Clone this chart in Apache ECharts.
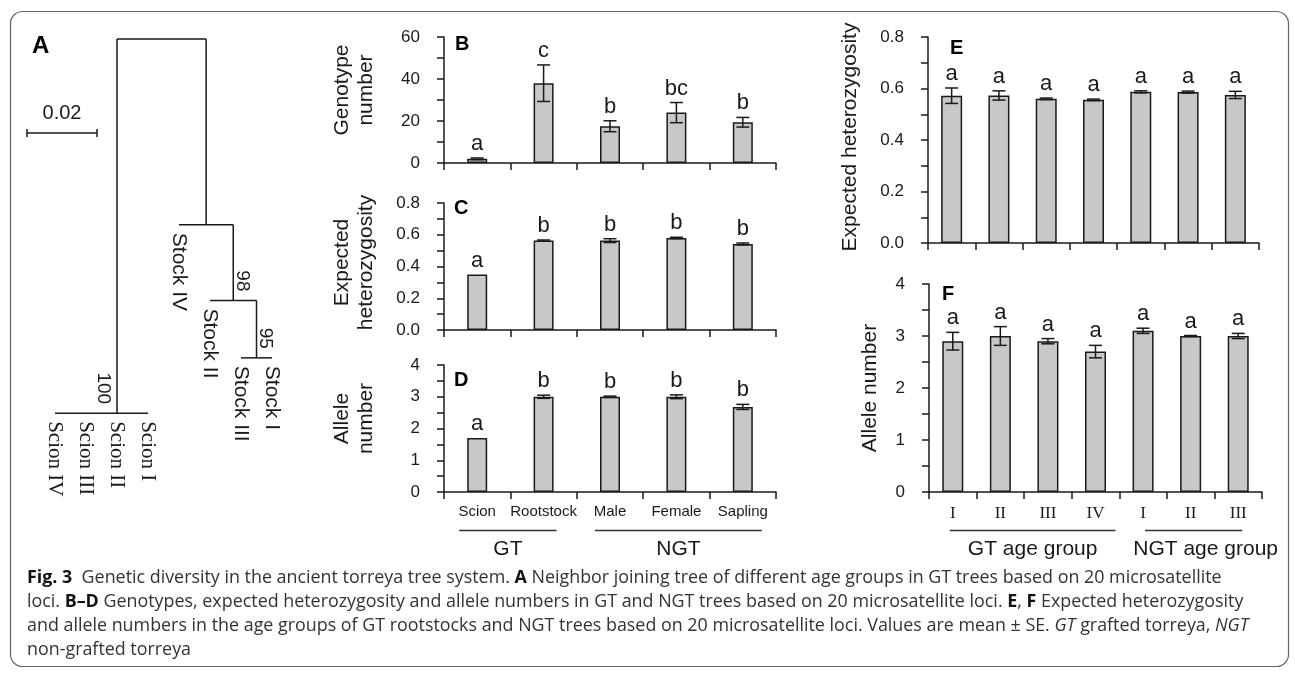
<!DOCTYPE html>
<html>
<head>
<meta charset="utf-8">
<script src="https://cdn.jsdelivr.net/npm/echarts@6/dist/echarts.min.js"></script>
<style>
html, body { margin: 0; padding: 0; background: #fff; }
#main { width: 1295px; height: 676px; }
</style>
</head>
<body>
<div id="main"></div>
<script>
// ---- data ----
// B-D: GT / NGT groups
var groupCats = ['Scion', 'Rootstock', 'Male', 'Female', 'Sapling'];
var genoMean = [2, 38, 17.5, 24, 19.4];
var genoSe = [0.4, 8.7, 2.6, 4.8, 2.3];
var genoSig = ['a', 'c', 'b', 'bc', 'b'];
var heMean = [0.35, 0.563, 0.563, 0.58, 0.542];
var heSe = [0, 0.004, 0.012, 0.004, 0.006];
var heSig = ['a', 'b', 'b', 'b', 'b'];
var alleleMean = [1.7, 3.0, 3.0, 3.0, 2.68];
var alleleSe = [0, 0.05, 0.02, 0.06, 0.08];
var alleleSig = ['a', 'b', 'b', 'b', 'b'];

// E-F: age groups
var ageCats = ['I', 'II', 'III', 'IV', 'I', 'II', 'III'];
var ageHeMean = [0.572, 0.573, 0.560, 0.556, 0.587, 0.586, 0.575];
var ageHeSe = [0.030, 0.018, 0.003, 0.003, 0.004, 0.004, 0.014];
var ageAlleleMean = [2.9, 3.0, 2.9, 2.7, 3.1, 3.0, 3.0];
var ageAlleleSe = [0.17, 0.18, 0.05, 0.12, 0.05, 0.01, 0.05];
var ageSig = ['a', 'a', 'a', 'a', 'a', 'a', 'a'];

// A: neighbor joining tree (depth = distance from root)
var treeLeaves = ['Scion IV', 'Scion III', 'Scion II', 'Scion I', 'Stock IV', 'Stock II', 'Stock III', 'Stock I'];
var treeNodes = ['root', 'scion', 'stock', 'n98', 'n95'];
var treeDepth = [0, 0.1069, 0.0531, 0.0747, 0.0911];
var treeChildren = [
    ['scion', 'stock'],
    ['Scion IV', 'Scion III', 'Scion II', 'Scion I'],
    ['Stock IV', 'n98'],
    ['Stock II', 'n95'],
    ['Stock III', 'Stock I']
];
var bootstrap = [null, 100, null, 98, 95];
var scaleBar = 0.02;

// ---- styles ----
var SANS = "'Liberation Sans', Arial, sans-serif";
var SERIF = "'Liberation Serif', 'Times New Roman', serif";
var INK = '#1a1a1a';
var BAR = '#c8c8c8';

// ---- tree layout ----
var treeX = {};
function nodeX(name) {
    if (treeX[name] != null) return treeX[name];
    var li = treeLeaves.indexOf(name);
    var x;
    if (li >= 0) {
        x = li;
    } else {
        var xs = treeChildren[treeNodes.indexOf(name)].map(nodeX);
        // polytomy: stem sits on the middle child
        x = xs.length > 2 ? xs[Math.floor(xs.length / 2)] : (xs[0] + xs[xs.length - 1]) / 2;
    }
    treeX[name] = x;
    return x;
}
function parentOf(name) {
    for (var k = 0; k < treeNodes.length; k++) {
        if (treeChildren[k].indexOf(name) >= 0) return treeNodes[k];
    }
    return null;
}

var treeSegs = [], leafPts = [], bootPts = [];
treeNodes.forEach(function (n, k) {
    var d = treeDepth[k];
    var xs = treeChildren[k].map(nodeX);
    treeSegs.push([Math.min.apply(null, xs), d, Math.max.apply(null, xs), d]);
    treeChildren[k].forEach(function (c) {
        var ci = treeNodes.indexOf(c);
        if (ci >= 0) {
            treeSegs.push([nodeX(c), d, nodeX(c), treeDepth[ci]]);
        } else {
            leafPts.push([nodeX(c), d, treeLeaves.indexOf(c)]);
        }
    });
    if (bootstrap[k] != null) {
        var p = parentOf(n);
        var side = nodeX(n) < nodeX(p) ? -1 : 1;
        bootPts.push([nodeX(n), d, bootstrap[k], side]);
    }
});

// ---- chart ----
var chart = echarts.init(document.getElementById('main'));

function valueAxis(gi, max, step, digits, name, gap, pad) {
    return {
        type: 'value', gridIndex: gi, min: 0, max: max, interval: step,
        axisLine: { show: true, lineStyle: { color: INK, width: 1.5 } },
        axisTick: { show: true, length: 7, lineStyle: { color: INK, width: 1.5 } },
        minorTick: { show: true, splitNumber: 2, length: 7, lineStyle: { color: INK, width: 1.5 } },
        splitLine: { show: false },
        axisLabel: {
            color: INK, fontSize: 17, fontFamily: SANS, margin: 24,
            formatter: function (v) { return v.toFixed(digits); }
        },
        name: name, nameLocation: 'middle', nameGap: gap, nameRotate: 90,
        nameTextStyle: { color: INK, fontSize: 21, fontFamily: SANS, lineHeight: 24, padding: pad }
    };
}

function catAxis(gi, cats, labelShow, font, size, margin) {
    return {
        type: 'category', gridIndex: gi, data: cats,
        axisLine: { show: true, lineStyle: { color: INK, width: 1.5 } },
        axisTick: { show: true, length: 7, interval: 0, lineStyle: { color: INK, width: 1.5 } },
        axisLabel: { show: labelShow, interval: 0, color: INK, fontFamily: font, fontSize: size, margin: margin },
        splitLine: { show: false }
    };
}

function barSeries(gi, mean, width) {
    return {
        type: 'bar', xAxisIndex: gi, yAxisIndex: gi, data: mean, barWidth: width, silent: true,
        itemStyle: { color: BAR, borderColor: INK, borderWidth: 1.5 }
    };
}

// error bars + significance letters
function errSeries(gi, mean, se, sig) {
    return {
        type: 'custom', xAxisIndex: gi, yAxisIndex: gi, silent: true, z: 5,
        data: mean.map(function (m, i) { return [i, m, se[i]]; }),
        encode: { x: 0, y: 1 },
        renderItem: function (params, api) {
            var i = api.value(0), m = api.value(1), s = api.value(2);
            var top = api.coord([i, m + s]);
            var bot = api.coord([i, m - s]);
            var x = top[0], w = 6.5;
            var st = { stroke: INK, lineWidth: 1.5 };
            var kids = [];
            if (s > 0) {
                kids.push({ type: 'line', shape: { x1: x, y1: top[1], x2: x, y2: bot[1] }, style: st });
                kids.push({ type: 'line', shape: { x1: x - w, y1: top[1], x2: x + w, y2: top[1] }, style: st });
                kids.push({ type: 'line', shape: { x1: x - w, y1: bot[1], x2: x + w, y2: bot[1] }, style: st });
            }
            kids.push({
                type: 'text', x: x, y: top[1] - 3,
                style: { text: sig[params.dataIndex], fill: INK, font: '22px ' + SANS, textAlign: 'center', textVerticalAlign: 'bottom' }
            });
            return { type: 'group', children: kids };
        }
    };
}

var option = {
    animation: false,
    backgroundColor: '#fff',
    grid: [
        { left: 24, top: 39, width: 279, height: 420, outerBoundsMode: 'none' },   // A
        { left: 444, top: 37, width: 332, height: 126, outerBoundsMode: 'none' },  // B
        { left: 444, top: 203, width: 332, height: 127, outerBoundsMode: 'none' }, // C
        { left: 444, top: 365, width: 332, height: 127, outerBoundsMode: 'none' }, // D
        { left: 928, top: 37, width: 331, height: 206, outerBoundsMode: 'none' },  // E
        { left: 929, top: 284, width: 333, height: 208, outerBoundsMode: 'none' }  // F
    ],
    xAxis: [
        { type: 'value', gridIndex: 0, min: -1, max: 8, show: false },
        catAxis(1, groupCats, false),
        catAxis(2, groupCats, false),
        catAxis(3, groupCats, true, SANS, 15, 12),
        catAxis(4, ageCats, false),
        catAxis(5, ageCats, true, SERIF, 17, 13)
    ],
    yAxis: [
        { type: 'value', gridIndex: 0, min: 0, max: 0.12, inverse: true, show: false },
        valueAxis(1, 60, 20, 0, 'Genotype\nnumber', 66, [0, 0, 0, 20]),
        valueAxis(2, 0.8, 0.2, 1, 'Expected\nheterozygosity', 66, [0, 0, 0, 8]),
        valueAxis(3, 4, 1, 0, 'Allele\nnumber', 66, [0, 0, 0, 20]),
        valueAxis(4, 0.8, 0.2, 1, 'Expected heterozygosity', 66, [0, 0, 0, 6]),
        valueAxis(5, 4, 1, 0, 'Allele number', 47, 0)
    ],
    series: [
        // tree branches
        {
            type: 'custom', xAxisIndex: 0, yAxisIndex: 0, silent: true,
            data: treeSegs, encode: { x: [0, 2], y: [1, 3] },
            renderItem: function (params, api) {
                var p1 = api.coord([api.value(0), api.value(1)]);
                var p2 = api.coord([api.value(2), api.value(3)]);
                return {
                    type: 'line',
                    shape: { x1: p1[0], y1: p1[1], x2: p2[0], y2: p2[1] },
                    style: { stroke: INK, lineWidth: 1.5 }
                };
            }
        },
        // leaf names
        {
            type: 'custom', xAxisIndex: 0, yAxisIndex: 0, silent: true,
            data: leafPts, encode: { x: 0, y: 1 },
            renderItem: function (params, api) {
                var p = api.coord([api.value(0), api.value(1)]);
                var name = treeLeaves[api.value(2)];
                var fam = name.indexOf('Scion') === 0 ? SERIF : SANS;
                return {
                    type: 'text', x: p[0], y: p[1] + 8, rotation: -Math.PI / 2,
                    style: { text: name, fill: INK, font: '21px ' + fam, textAlign: 'left', textVerticalAlign: 'middle' }
                };
            }
        },
        // bootstrap values
        {
            type: 'custom', xAxisIndex: 0, yAxisIndex: 0, silent: true,
            data: bootPts, encode: { x: 0, y: 1 },
            renderItem: function (params, api) {
                var p = api.coord([api.value(0), api.value(1)]);
                var side = api.value(3);
                return {
                    type: 'text', x: p[0] + (side < 0 ? -14 : 9), y: p[1] - 9, rotation: -Math.PI / 2,
                    style: { text: String(api.value(2)), fill: INK, font: '19px ' + SANS, textAlign: 'right', textVerticalAlign: 'middle' }
                };
            }
        },
        // scale bar
        {
            type: 'custom', xAxisIndex: 0, yAxisIndex: 0, silent: true,
            data: [[0, scaleBar]], encode: { y: 1 },
            renderItem: function (params, api) {
                var len = api.size([0, api.value(1)])[1];
                var x0 = 27, y0 = 133;
                var st = { stroke: INK, lineWidth: 1.5 };
                return {
                    type: 'group', children: [
                        { type: 'line', shape: { x1: x0, y1: y0, x2: x0 + len, y2: y0 }, style: st },
                        { type: 'line', shape: { x1: x0, y1: y0 - 4, x2: x0, y2: y0 + 4 }, style: st },
                        { type: 'line', shape: { x1: x0 + len, y1: y0 - 4, x2: x0 + len, y2: y0 + 4 }, style: st },
                        {
                            type: 'text', x: x0 + len / 2, y: y0 - 20,
                            style: { text: String(api.value(1)), fill: INK, font: '20px ' + SANS, textAlign: 'center', textVerticalAlign: 'middle' }
                        }
                    ]
                };
            }
        },
        barSeries(1, genoMean, 20), errSeries(1, genoMean, genoSe, genoSig),
        barSeries(2, heMean, 20), errSeries(2, heMean, heSe, heSig),
        barSeries(3, alleleMean, 20), errSeries(3, alleleMean, alleleSe, alleleSig),
        barSeries(4, ageHeMean, 21), errSeries(4, ageHeMean, ageHeSe, ageSig),
        barSeries(5, ageAlleleMean, 21), errSeries(5, ageAlleleMean, ageAlleleSe, ageSig)
    ]
};
chart.setOption(option);

// ---- annotations: panel letters, group brackets, caption ----
var graphics = [];

graphics.push({
    type: 'rect', silent: true,
    shape: { x: 10.5, y: 11.5, width: 1278, height: 655, r: 12 },
    style: { fill: null, stroke: '#666', lineWidth: 1.2 }
});

var panelLetters = [['A', 32, 46, 24], ['B', 455, 44, 20], ['C', 454, 208, 20], ['D', 454, 380.5, 20], ['E', 950, 48, 20], ['F', 942, 294, 20]];
panelLetters.forEach(function (p) {
    graphics.push({
        type: 'text', x: p[1], y: p[2], silent: true,
        style: { text: p[0], fill: '#000', font: 'bold ' + p[3] + 'px ' + SANS, textAlign: 'left', textVerticalAlign: 'middle' }
    });
});

function catPx(axisIdx, i) {
    return chart.convertToPixel({ xAxisIndex: axisIdx }, i);
}
// [axis, first, last, label, leftPad, rightPad]
var brackets = [
    [3, 0, 1, 'GT', 18, 13],
    [3, 2, 4, 'NGT', 15, 19],
    [5, 0, 3, 'GT age group', 3, 20],
    [5, 4, 6, 'NGT age group', -2, 4]
];
brackets.forEach(function (b) {
    var x1 = catPx(b[0], b[1]) - b[4];
    var x2 = catPx(b[0], b[2]) + b[5];
    graphics.push({
        type: 'line', silent: true,
        shape: { x1: x1, y1: 530.5, x2: x2, y2: 530.5 },
        style: { stroke: '#333', lineWidth: 1.5 }
    });
    graphics.push({
        type: 'text', silent: true, x: (x1 + x2) / 2 + (b[3] === 'NGT age group' ? 12 : 0), y: 549,
        style: { text: b[3], fill: INK, font: '21px ' + SANS, textAlign: 'center', textVerticalAlign: 'middle' }
    });
});

// caption
var capFamily = "'Open Sans', 'Liberation Sans', Arial, sans-serif";
var capSize = 18;
var capScale = 0.993;
var capLines = [
    '{b|Fig. 3}  Genetic diversity in the ancient torreya tree system. {b|A} Neighbor joining tree of different age groups in GT trees based on 20 microsatellite',
    'loci. {b|B–D} Genotypes, expected heterozygosity and allele numbers in GT and NGT trees based on 20 microsatellite loci. {b|E}, {b|F} Expected heterozygosity',
    'and allele numbers in the age groups of GT rootstocks and NGT trees based on 20 microsatellite loci. Values are mean ± SE. {i|GT} grafted torreya, {i|NGT}',
    'non-grafted torreya'
];
var capY = [578, 602, 626, 650];
capLines.forEach(function (t, k) {
    graphics.push({
        type: 'text', silent: true, x: 27, y: capY[k], scaleX: capScale,
        style: {
            text: t, fill: '#333', fontSize: capSize, fontFamily: capFamily,
            textAlign: 'left', textVerticalAlign: 'middle',
            rich: {
                b: { fontWeight: 'bold', fontSize: capSize, fontFamily: capFamily, fill: '#111' },
                i: { fontStyle: 'italic', fontSize: capSize, fontFamily: capFamily, fill: '#333' }
            }
        }
    });
});

chart.setOption({ graphic: graphics });
</script>
</body>
</html>
